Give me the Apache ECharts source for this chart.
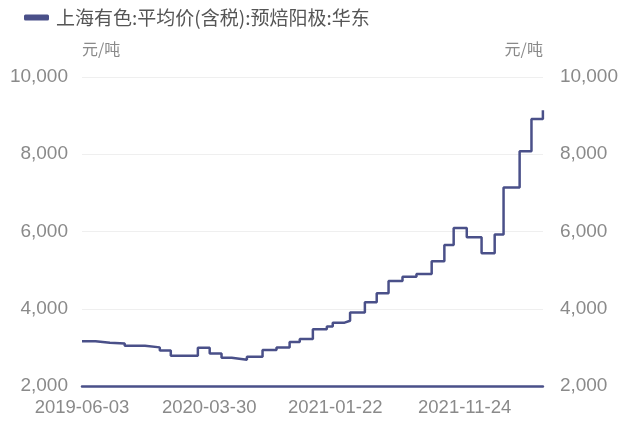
<!DOCTYPE html>
<html>
<head>
<meta charset="utf-8">
<script src="https://cdn.jsdelivr.net/npm/echarts@6/dist/echarts.min.js"></script>
<style>
html,body{margin:0;padding:0;background:#fff;}
#chart{width:621px;height:426px;}
</style>
</head>
<body>
<div id="chart"></div>
<script>
// Price change dates (step points) and prices, 元/吨
const seriesName = '上海有色:平均价(含税):预焙阳极:华东';
const changeDates = [
  '2019-06-03','2019-07-05','2019-08-08','2019-09-12','2019-10-30','2019-12-04','2019-12-30',
  '2020-03-03','2020-03-31','2020-04-28','2020-05-22','2020-06-27','2020-08-03','2020-09-05',
  '2020-10-06','2020-10-30','2020-11-30','2021-01-02','2021-01-16','2021-02-13','2021-02-26',
  '2021-04-02','2021-04-30','2021-05-28','2021-06-30','2021-08-02','2021-09-07','2021-10-07',
  '2021-10-29','2021-11-29','2022-01-03','2022-02-03','2022-02-24','2022-04-03','2022-05-01',
  '2022-05-28'
];
const prices = [
  3160,3120,3100,3040,3000,2920,2780,
  2990,2840,2730,2680,2760,2930,3000,
  3140,3220,3470,3540,3640,3690,3900,
  4170,4400,4720,4830,4900,5230,5650,
  6090,5850,5440,5920,7140,8080,8910,
  9140
];
const xTickLabels = ['2019-06-03','2020-03-30','2021-01-22','2021-11-24'];
const yTicks = [2000,4000,6000,8000,10000];
const unitName = '元/吨';

const lineColor = '#4a5089';
const toTs = s => echarts.number.parseDate(s).getTime();
const data = changeDates.map((d, i) => [toTs(d), prices[i]]);

const chart = echarts.init(document.getElementById('chart'), null, {renderer: 'canvas'});
const yAxisCommon = {
  type: 'value',
  min: yTicks[0],
  max: yTicks[yTicks.length - 1],
  interval: yTicks[1] - yTicks[0],
  name: unitName,
  nameGap: 20,
  axisLine: {show: false},
  axisTick: {show: false},
  splitLine: {show: true, lineStyle: {color: '#efefef', width: 1}}
};
const yLabelStyle = {color: '#8a8a8a', fontSize: 19, fontFamily: 'Liberation Sans, Arial, sans-serif'};
chart.setOption({
  animation: false,
  legend: {
    left: 19,
    top: 3,
    icon: 'roundRect',
    itemWidth: 25,
    itemHeight: 6,
    itemGap: 8,
    textStyle: {color: '#555', fontSize: 19, fontFamily: 'Noto Sans CJK SC, sans-serif', padding: [0, 0, 0, 2]},
    data: [seriesName]
  },
  grid: {left: 82, right: 78, top: 77, bottom: 40, containLabel: false},
  xAxis: {
    type: 'time',
    min: toTs(changeDates[0]),
    max: toTs(changeDates[changeDates.length - 1]),
    axisLine: {show: true, lineStyle: {color: lineColor, width: 2.5}},
    axisTick: {show: false},
    splitLine: {show: false},
    axisLabel: {
      customValues: xTickLabels.map(toTs),
      formatter: '{yyyy}-{MM}-{dd}',
      color: '#8a8a8a',
      fontSize: 18.5,
      fontFamily: 'Liberation Sans, Arial, sans-serif',
      margin: 12,
      showMinLabel: true,
      showMaxLabel: false
    }
  },
  yAxis: [
    Object.assign({}, yAxisCommon, {
      position: 'left',
      axisLabel: Object.assign({margin: 14}, yLabelStyle),
      nameTextStyle: {color: '#8a8a8a', fontSize: 16, fontFamily: 'Noto Sans CJK SC, sans-serif', align: 'left'}
    }),
    Object.assign({}, yAxisCommon, {
      position: 'right',
      axisLabel: Object.assign({margin: 17}, yLabelStyle),
      nameTextStyle: {color: '#8a8a8a', fontSize: 16, fontFamily: 'Noto Sans CJK SC, sans-serif', align: 'right'}
    })
  ],
  series: [{
    name: seriesName,
    type: 'line',
    step: 'end',
    yAxisIndex: 0,
    showSymbol: false,
    symbol: 'none',
    color: lineColor,
    lineStyle: {color: lineColor, width: 2.5},
    data: data
  }]
});
</script>
</body>
</html>
